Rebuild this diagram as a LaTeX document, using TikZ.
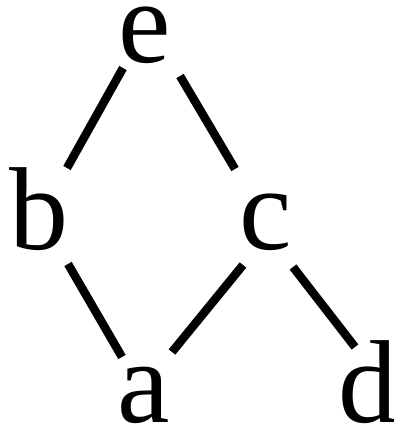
\documentclass[tikz,border=0pt]{standalone}
\usepackage{fontspec}
\setmainfont{Liberation Serif}
\begin{document}
\begin{tikzpicture}[x=1pt,y=-1pt,
  lbl/.style={anchor=base,inner sep=0pt,font=\fontsize{118}{120}\selectfont},
  edge/.style={line width=8.5pt}]
\useasboundingbox (0,0) rectangle (393,425);
\node[lbl] (e) at (145,63) {e};
\node[lbl] (b) at (39,249) {b};
\node[lbl] (c) at (266,249) {c};
\node[lbl] (a) at (144,422) {a};
\node[lbl] (d) at (368,422) {d};
\draw[edge] ([shift={(-22,5)}]e.base) -- ([shift={(28,-81)}]b.base);
\draw[edge] ([shift={(35,13)}]e.base) -- ([shift={(-31,-80)}]c.base);
\draw[edge] ([shift={(29,15)}]b.base) -- ([shift={(-22,-65)}]a.base);
\draw[edge] ([shift={(-23,16)}]c.base) -- ([shift={(28,-70)}]a.base);
\draw[edge] ([shift={(27,18)}]c.base) -- ([shift={(-13,-75)}]d.base);
\end{tikzpicture}
\end{document}
